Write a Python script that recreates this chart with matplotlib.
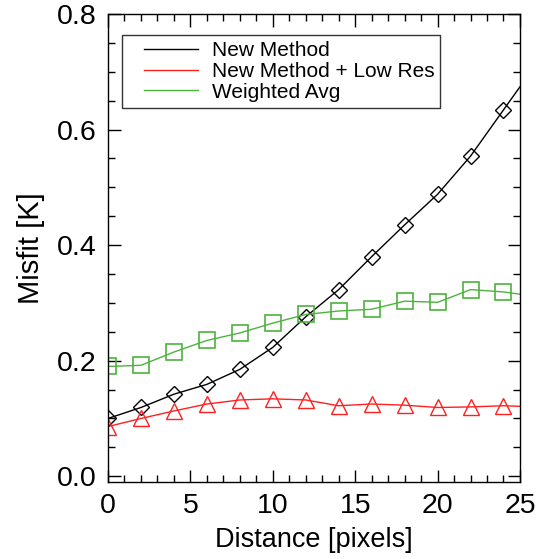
import matplotlib
matplotlib.use("Agg")
import matplotlib.pyplot as plt
from matplotlib.ticker import MultipleLocator, FormatStrFormatter
from matplotlib.lines import Line2D
from matplotlib.legend_handler import HandlerLine2D

plt.rcParams['font.family'] = ['Liberation Sans', 'DejaVu Sans']

# distance in pixels; markers at the even points, line runs on to 25
distance = [0, 2, 4, 6, 8, 10, 12, 14, 16, 18, 20, 22, 24, 25]
new_method = [0.100, 0.119, 0.142, 0.159, 0.185, 0.223, 0.276, 0.323, 0.380,
              0.435, 0.488, 0.554, 0.634, 0.674]
low_res = [0.086, 0.100, 0.113, 0.125, 0.132, 0.134, 0.132, 0.122, 0.125,
           0.123, 0.119, 0.120, 0.122, 0.121]
weighted = [0.190, 0.192, 0.215, 0.235, 0.248, 0.265, 0.280, 0.286, 0.289,
            0.303, 0.301, 0.323, 0.319, 0.315]
labels = ['New Method', 'New Method + Low Res', 'Weighted Avg']

black = '#000000'
red = '#ff2020'
green = '#4cb33c'

fig = plt.figure(figsize=(5.39, 5.59), dpi=100)
ax = fig.add_axes([0.2004, 0.1377, 0.7643, 0.8373])

marks = slice(0, 13)
ax.plot(distance, new_method, color=black, lw=1, marker='D', ms=8,
        mfc='none', mec=black, mew=1, markevery=marks, label=labels[0])
ax.plot(distance, low_res, color=red, lw=1, marker='^', ms=11.5,
        mfc='none', mec=red, mew=1, markevery=marks, label=labels[1])
ax.plot(distance, weighted, color=green, lw=1, marker='s', ms=11,
        mfc='none', mec=green, mew=1.2, markevery=marks, label=labels[2])

ax.set_xlim(0, 25)
ax.set_ylim(-0.01, 0.8)
ax.xaxis.set_major_locator(MultipleLocator(5))
ax.xaxis.set_minor_locator(MultipleLocator(1))
ax.yaxis.set_major_locator(MultipleLocator(0.2))
ax.yaxis.set_minor_locator(MultipleLocator(0.05))
ax.yaxis.set_major_formatter(FormatStrFormatter('%.1f'))
ax.tick_params(which='both', direction='in', top=True, right=True,
               labelsize=20.5, width=1)
ax.tick_params(which='major', length=9, pad=8)
ax.tick_params(which='minor', length=5)
for s in ax.spines.values():
    s.set_linewidth(1)

ax.set_xlabel('Distance [pixels]', fontsize=19.5, labelpad=6)
ax.set_ylabel('Misfit [K]', fontsize=21, labelpad=9)

leg = ax.legend(loc='upper left', bbox_to_anchor=(0.034, 0.955), fontsize=15,
                frameon=True, fancybox=False, handlelength=3.35, handletextpad=0.65,
                borderpad=0.3, labelspacing=0.08, borderaxespad=0,
                handler_map={Line2D: HandlerLine2D(xpad=0.75)})
leg.get_frame().set_edgecolor('black')
leg.get_frame().set_linewidth(1)
for h in leg.legend_handles:
    h.set_marker('')

fig.savefig('out.png', dpi=100)
